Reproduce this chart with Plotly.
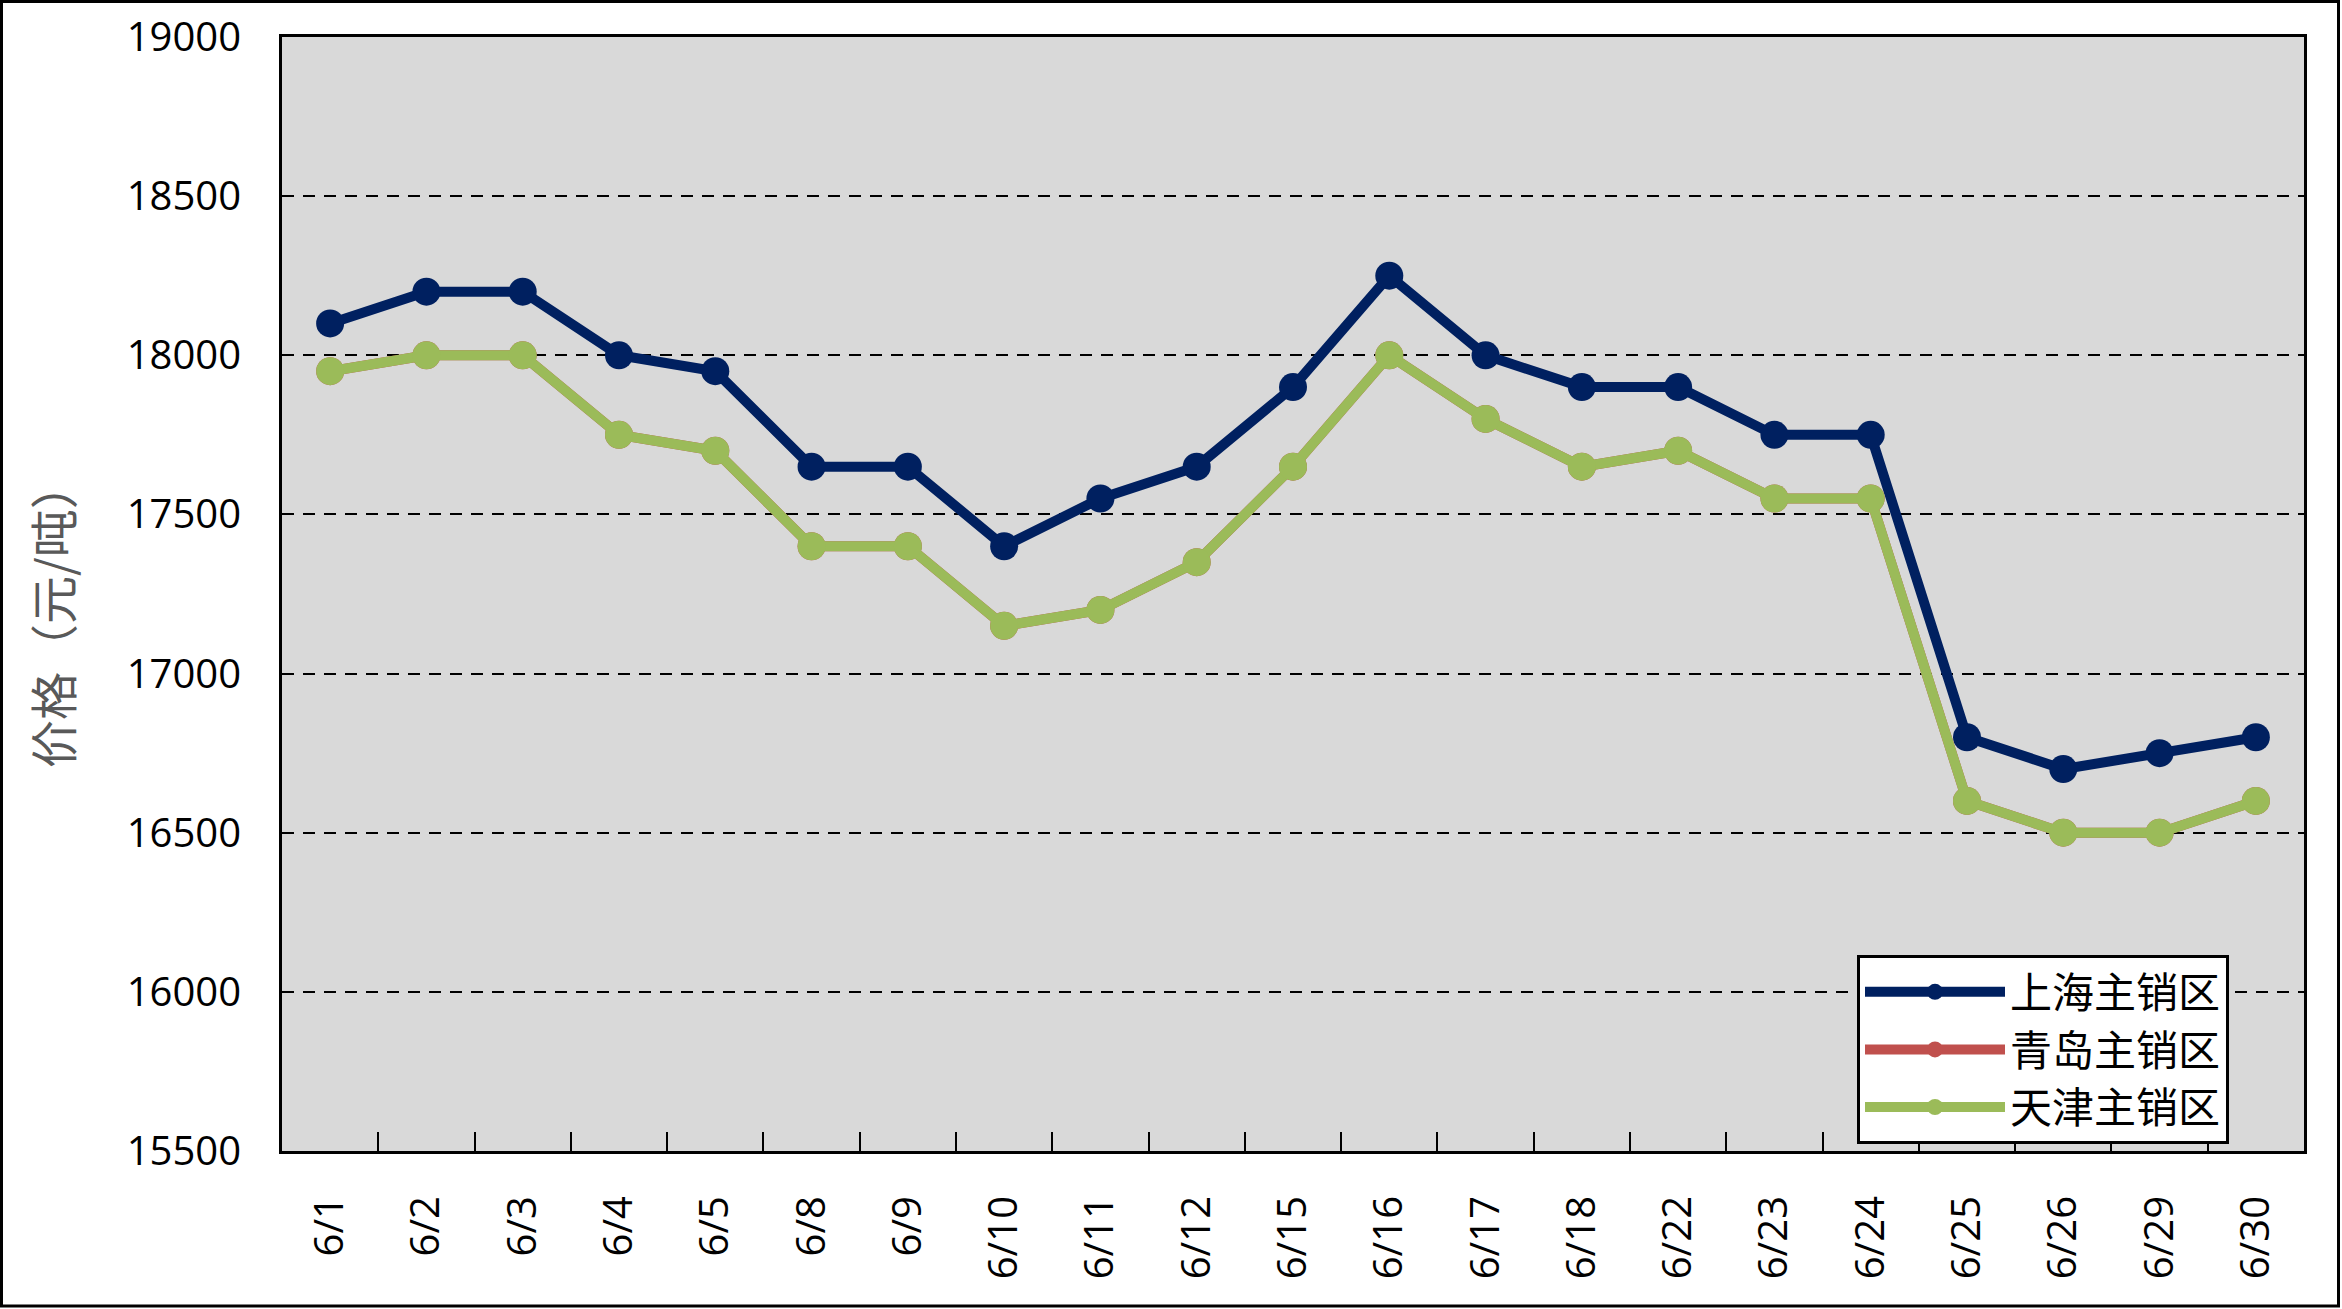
import plotly.graph_objects as go

dates = ["6/1", "6/2", "6/3", "6/4", "6/5", "6/8", "6/9", "6/10", "6/11", "6/12",
         "6/15", "6/16", "6/17", "6/18", "6/22", "6/23", "6/24", "6/25", "6/26", "6/29", "6/30"]
shanghai = [18100, 18200, 18200, 18000, 17950, 17650, 17650, 17400, 17550, 17650,
            17900, 18250, 18000, 17900, 17900, 17750, 17750, 16800, 16700, 16750, 16800]
tianjin = [17950, 18000, 18000, 17750, 17700, 17400, 17400, 17150, 17200, 17350,
           17650, 18000, 17800, 17650, 17700, 17550, 17550, 16600, 16500, 16500, 16600]
qingdao = [17950, 18000, 18000, 17750, 17700, 17400, 17400, 17150, 17200, 17350,
           17650, 18000, 17800, 17650, 17700, 17550, 17550, 16600, 16500, 16500, 16600]
series_names = ["上海主销区", "青岛主销区", "天津主销区"]
y_title = "价格（元/吨）"

W, H = 2342, 1309
L, R, T, B = 282, 38, 37, 158
PW, PH = W - L - R, H - T - B

def px(x):
    return (x - L) / PW

def py(y):
    return (H - B - y) / PH

colors = ["#002060", "#C0504D", "#9BBB59"]
fig = go.Figure()
for name, vals, c in zip(series_names, [shanghai, qingdao, tianjin], colors):
    fig.add_trace(go.Scatter(
        x=dates, y=vals, name=name, mode="lines+markers",
        line=dict(color=c, width=10),
        marker=dict(color=c, size=28),
    ))

tick_font = dict(family="Open Sans", size=40, color="black")
fig.update_layout(
    width=W, height=H,
    margin=dict(l=L, r=R, t=T, b=B, autoexpand=False),
    paper_bgcolor="white", plot_bgcolor="#D9D9D9",
    showlegend=True,
    legend=dict(
        x=px(1857), y=py(955), xanchor="left", yanchor="top",
        bgcolor="white", bordercolor="black", borderwidth=3,
        font=dict(family="Noto Sans CJK SC", size=42, color="black"),
        itemwidth=140, tracegroupgap=0,
    ),
    xaxis=dict(
        type="category", range=[-0.5, len(dates) - 0.5],
        showgrid=False, showline=True, linecolor="black", linewidth=3, mirror=True,
        ticks="inside", tickson="boundaries", ticklen=19, tickwidth=2, tickcolor="black",
        tickangle=-90, tickfont=tick_font, ticklabelstandoff=26,
        automargin=False,
    ),
    yaxis=dict(
        range=[15500, 19000], dtick=500, tick0=15500, tickformat="d",
        showgrid=True, gridcolor="black", gridwidth=2, griddash="12px,9px",
        showline=True, linecolor="black", linewidth=3, mirror=True,
        ticks="", tickfont=tick_font, ticklabelstandoff=30,
        zeroline=False, automargin=False,
    ),
    annotations=[dict(
        text=y_title, textangle=-90, xref="paper", yref="paper",
        x=px(51), y=py(615), xanchor="center", yanchor="middle", showarrow=False,
        font=dict(family="Noto Sans CJK SC", size=48, color="#595959"),
    )],
    shapes=[dict(
        type="rect", xref="paper", yref="paper",
        x0=px(1.5), x1=px(2338.5), y0=py(1306), y1=py(1.5),
        line=dict(color="black", width=3), layer="above",
    )],
)

fig.write_html("out.html")
